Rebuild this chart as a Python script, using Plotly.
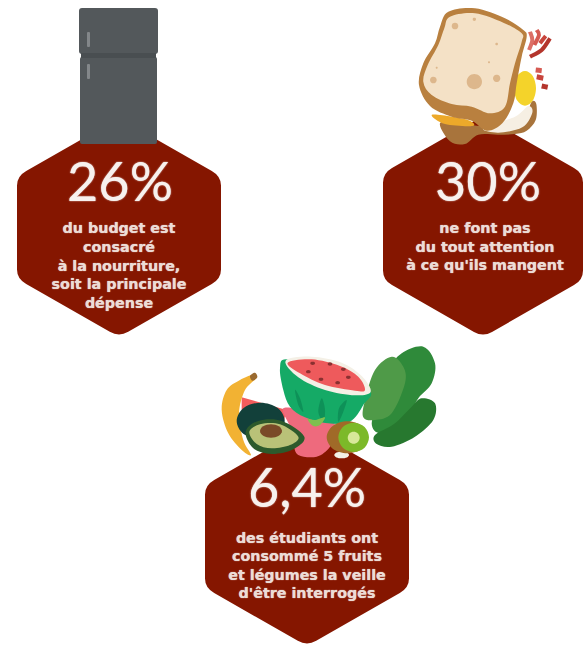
import plotly.graph_objects as go

# ---- content -------------------------------------------------------------
percent_labels = ["26%", "30%", "6,4%"]
captions = [
    "du budget est<br>consacré<br>à la nourriture,<br>soit la principale<br>dépense",
    "ne font pas<br>du tout attention<br>à ce qu'ils mangent",
    "des étudiants ont<br>consommé 5 fruits<br>et légumes la veille<br>d'être interrogés",
]
centre_x = [119, 483, 307]
half_width = [102, 100, 102]
top_y = [118, 116, 427]
bottom_y = [337, 337, 646]
percent_x = [120, 488, 307]
percent_y = [187, 187, 493]
caption_x = [119, 485, 307]
caption_y = [267, 248, 567]

HEX = "#851600"
PCT = "#f7f1ee"
CAP = "#ecdcd6"

shapes = []


def add(path, fill, line=None, width=0):
    shapes.append(dict(type="path", path=path, fillcolor=fill,
                       line=dict(color=line or fill, width=width), layer="below"))


def stroke(path, col, width):
    shapes.append(dict(type="path", path=path, line=dict(color=col, width=width), layer="below"))


def blob(pts, ox=0, oy=0, s=1.0, closed=True):
    """Catmull-Rom smooth path through pts."""
    p = [(ox + x * s, oy + y * s) for x, y in pts]
    n = len(p)
    d = f"M{p[0][0]:.1f},{p[0][1]:.1f}"
    segs = n if closed else n - 1
    for i in range(segs):
        if closed:
            p0, p1, p2, p3 = p[(i - 1) % n], p[i], p[(i + 1) % n], p[(i + 2) % n]
        else:
            p0, p1, p2, p3 = p[max(i - 1, 0)], p[i], p[i + 1], p[min(i + 2, n - 1)]
        c1 = (p1[0] + (p2[0] - p0[0]) / 6, p1[1] + (p2[1] - p0[1]) / 6)
        c2 = (p2[0] - (p3[0] - p1[0]) / 6, p2[1] - (p3[1] - p1[1]) / 6)
        d += f" C{c1[0]:.1f},{c1[1]:.1f} {c2[0]:.1f},{c2[1]:.1f} {p2[0]:.1f},{p2[1]:.1f}"
    return d + (" Z" if closed else "")


def ell(cx, cy, rx, ry):
    return [(cx + rx * a, cy + ry * b) for a, b in
            [(1, 0), (.71, .71), (0, 1), (-.71, .71), (-1, 0), (-.71, -.71), (0, -1), (.71, -.71)]]


def rrect(x0, y0, x1, y1, r):
    return (f"M{x0+r},{y0} L{x1-r},{y0} Q{x1},{y0} {x1},{y0+r} L{x1},{y1-r} Q{x1},{y1} {x1-r},{y1} "
            f"L{x0+r},{y1} Q{x0},{y1} {x0},{y1-r} L{x0},{y0+r} Q{x0},{y0} {x0+r},{y0} Z")


def hexagon(cx, hw, top, bot):
    k = 0.57 * hw
    v = [(cx, top), (cx + hw, top + k), (cx + hw, bot - k), (cx, bot), (cx - hw, bot - k), (cx - hw, top + k)]
    n = len(v)
    r = 0.09
    d = ""
    for i in range(n):
        a, b, c = v[i - 1], v[i], v[(i + 1) % n]
        s = (b[0] + (a[0] - b[0]) * r, b[1] + (a[1] - b[1]) * r)
        e = (b[0] + (c[0] - b[0]) * r, b[1] + (c[1] - b[1]) * r)
        d += ("M" if i == 0 else " L") + f"{s[0]:.1f},{s[1]:.1f} Q{b[0]:.1f},{b[1]:.1f} {e[0]:.1f},{e[1]:.1f}"
    return d + " Z"


for cx, hw, t, b in zip(centre_x, half_width, top_y, bottom_y):
    add(hexagon(cx, hw, t, b), HEX)

# ---- fridge --------------------------------------------------------------
add(rrect(79, 8, 158, 54, 3), "#53585b")
add(rrect(80, 57, 157, 144, 2), "#53585b")
add(rrect(81, 53, 156, 58, 0), "#494e51")
add(rrect(87, 32, 90, 47, 1), "#83878a")
add(rrect(87, 64, 90, 79, 1), "#83878a")

# ---- sandwich (drawn in a local 3x frame) --------------------------------
SX, SY, SS = 415, 0, 1 / 3
def sw(pts, fill):
    add(blob(pts, SX, SY, SS), fill)

sw([(75,370),(130,370),(220,380),(290,370),(330,350),(350,305),(364,312),(362,360),(335,392),(300,402),(250,404),(190,404),(150,432),(105,424)], "#a8743c")
sw(ell(330, 265, 33, 52), "#f4d32a")
sw([(205,385),(300,350),(340,318),(352,338),(322,382),(250,398)], "#f6efe3")
sw([(50,345),(110,350),(165,362),(172,378),(90,372)], "#eda92a")
sw([(100,35),(180,25),(270,55),(325,90),(335,110),(320,170),(305,250),(295,310),(262,370),(215,392),(170,362),(110,350),(45,318),(12,255),(25,190),(60,130),(75,80)], "#b9803f")
sw([(105,50),(180,40),(265,68),(320,100),(320,125),(300,190),(285,250),(270,320),(225,340),(170,320),(110,312),(50,285),(25,245),(38,195),(70,135),(88,85)], "#f4e1c6")
for cx_, cy_, r_ in [(178,245,23),(245,235,11),(55,240,10),(120,78,10),(178,58,5),(245,132,4),(222,187,3),(65,203,3)]:
    sw(ell(cx_, cy_, r_, r_), "#ddb78c")
# bacon
for pts, col in [([(345,170),(380,150),(405,115)], "#b4352c"), ([(342,150),(352,120),(345,95)], "#dc6f66"),
                 ([(358,135),(372,105),(365,90)], "#d65a52"), ([(375,130),(392,108)], "#c8453c")]:
    stroke(blob(pts, SX, SY, SS, closed=False), col, 4)
for pts, col in [([(362,210),(380,212)], "#d65a52"), ([(365,230),(385,235)], "#c8453c"), ([(380,258),(398,262)], "#b4352c")]:
    stroke(blob(pts, SX, SY, SS, closed=False), col, 5)

# ---- fruits (drawn in a local 3x frame) ----------------------------------
FX, FY, FS = 215, 340, 1 / 3
def fr(pts, fill):
    add(blob(pts, FX, FY, FS), fill)

# greens
fr([(560,40),(625,20),(660,70),(650,130),(610,175),(570,240),(500,280),(470,250),(500,170),(520,90)], "#2f8a3a")
fr([(620,175),(660,190),(655,240),(600,290),(530,320),(485,312),(480,285),(540,250),(590,200)], "#27782f")
fr([(480,90),(530,50),(565,80),(570,130),(530,220),(480,240),(445,232),(450,180)], "#4f9a48")
# back slice and tomato
add(f"M{FX+80*FS},{FY+172*FS} L{FX+215*FS},{FY+210*FS} L{FX+205*FS},{FY+250*FS} L{FX+80*FS},{FY+240*FS} Z", "#f25c5c")
fr([(205,205),(280,215),(345,235),(362,270),(345,320),(305,350),(250,345),(235,310),(225,260)], "#ee6a7d")
# watermelon
fr([(195,85),(215,58),(330,90),(462,150),(445,195),(405,245),(340,250),(270,232),(225,200),(205,150)], "#15aa66")
fr([(240,150),(255,175),(265,215),(250,195)], "#0e9158")
fr([(320,175),(330,210),(325,245),(310,215)], "#0e9158")
fr([(395,180),(385,215),(370,245),(372,205)], "#0e9158")
fr([(212,62),(290,50),(380,68),(440,108),(467,155),(420,166),(330,150),(250,112)], "#f4f0e6")
fr([(218,68),(290,58),(375,78),(430,110),(450,150),(420,152),(330,135),(255,100)], "#ee5a5c")
for sx_, sy_ in [(293,70),(345,72),(385,88),(280,95),(400,112),(318,118),(368,128)]:
    fr(ell(sx_, sy_, 7, 5), "#8a3030")
fr([(278,238),(300,240),(330,232),(315,255),(295,258)], "#7fc04f")
# banana
fr([(112,105),(125,113),(90,150),(72,220),(85,300),(108,345),(80,330),(40,280),(20,210),(35,150),(75,120)], "#f2b233")
fr([(105,108),(120,98),(127,112),(112,122)], "#9a6a30")
# avocado
fr(ell(137, 243, 72, 55), "#12403a")
fr([(92,275),(130,243),(200,243),(268,290),(235,328),(170,342),(115,325)], "#2d5a2c")
fr([(103,275),(135,253),(195,253),(250,290),(225,315),(170,325),(125,312)], "#b9c278")
fr(ell(168, 273, 33, 20), "#7a4a28")
# kiwi
fr(ell(380, 345, 22, 10), "#f4f0e6")
fr(ell(397, 292, 62, 48), "#a06a28")
fr(ell(416, 292, 46, 44), "#7cb929")
fr(ell(416, 293, 18, 18), "#d8e89a")

# ---- figure --------------------------------------------------------------
fig = go.Figure()
fig.add_trace(go.Scatter(
    x=percent_x, y=percent_y, mode="text", text=percent_labels,
    textposition="middle center", hoverinfo="skip",
    textfont=dict(family="Lato", size=54, color=PCT, shadow=f"0 0 1.5px {PCT}")))
fig.add_trace(go.Scatter(
    x=caption_x, y=caption_y, mode="text", text=captions,
    textposition="middle center", hoverinfo="skip",
    textfont=dict(family="DejaVu Sans", size=14.3, color=CAP, weight=700,
                  shadow=f"0 0 1px {CAP}")))

fig.update_layout(
    width=583, height=648, margin=dict(l=0, r=0, t=0, b=0),
    paper_bgcolor="white", plot_bgcolor="rgba(0,0,0,0)", showlegend=False,
    shapes=shapes,
    xaxis=dict(range=[0, 583], visible=False, fixedrange=True),
    yaxis=dict(range=[648, 0], visible=False, fixedrange=True),
)
fig.write_html("out.html", config=dict(displayModeBar=False),
               post_script="document.body.style.margin='0';")
